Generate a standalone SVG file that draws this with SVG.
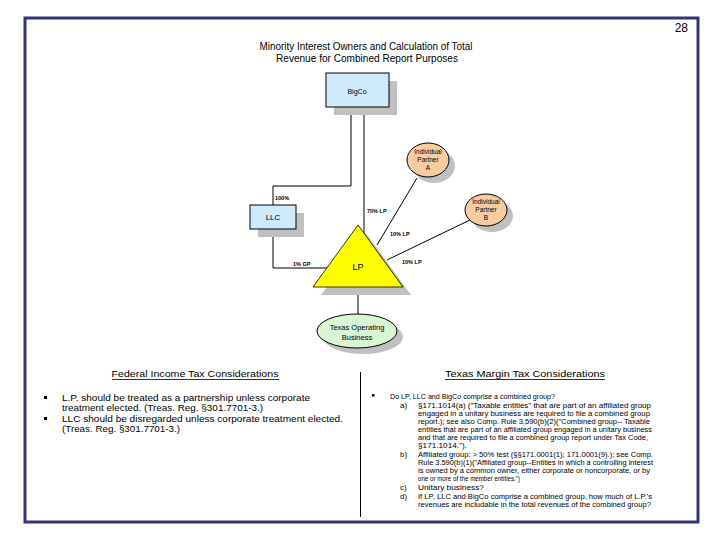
<svg xmlns="http://www.w3.org/2000/svg" width="720" height="540" viewBox="0 0 720 540">
<style>
text{font-family:"Liberation Sans",Arial,sans-serif;fill:#000}
.t{font-size:10px}
.n{font-size:7px}
.lb{font-size:5.5px;font-weight:bold}
.b{font-size:9px}
.s{font-size:8px}
.ln{stroke:#000;stroke-width:1;fill:none}
.sh{fill:#c0c0c0}
</style>
<rect x="0" y="0" width="720" height="540" fill="#fff"/>
<rect x="25" y="18" width="673" height="504" fill="none" stroke="#333377" stroke-width="3"/>
<text x="688" y="32" font-size="12" text-anchor="end" style="font-size:12px">28</text>
<text class="t" x="366" y="50" text-anchor="middle" textLength="213" lengthAdjust="spacingAndGlyphs">Minority Interest Owners and Calculation of Total</text>
<text class="t" x="367" y="62" text-anchor="middle" textLength="182" lengthAdjust="spacingAndGlyphs">Revenue for Combined Report Purposes</text>

<g id="connectors">
<polyline class="ln" points="351,107 351,186 273,186 273,205"/>
<line class="ln" x1="364" y1="107" x2="364" y2="234"/>
<polyline class="ln" points="273,229 273,268 328,268"/>
<line class="ln" x1="417" y1="178" x2="377" y2="245"/>
<line class="ln" x1="470" y1="220" x2="387" y2="260"/>
<line class="ln" x1="358" y1="287" x2="358" y2="315"/>
<text class="lb" x="275" y="200">100%</text>
<text class="lb" x="367" y="213">70% LP</text>
<text class="lb" x="390" y="236">10% LP</text>
<text class="lb" x="402" y="264">10% LP</text>
<text class="lb" x="293" y="266">1% GP</text>
</g>

<g id="bigco">
<rect class="sh" x="334" y="81" width="63" height="34"/>
<rect x="326" y="73" width="63" height="34" fill="#cfeafb" stroke="#000" stroke-width="1"/>
<text class="n" x="357" y="94" text-anchor="middle">BigCo</text>
</g>

<g id="llc">
<rect class="sh" x="258" y="213" width="46" height="24"/>
<rect x="250" y="205" width="46" height="24" fill="#cfeafb" stroke="#000" stroke-width="1"/>
<text x="273" y="220" text-anchor="middle" style="font-size:8px">LLC</text>
</g>

<g id="partner-a">
<ellipse class="sh" cx="434" cy="166" rx="21" ry="17"/>
<ellipse cx="428" cy="160" rx="21" ry="17" fill="#f9cba0" stroke="#000" stroke-width="1"/>
<text x="428" y="154" text-anchor="middle" style="font-size:6.5px">Individual</text>
<text x="428" y="162" text-anchor="middle" style="font-size:6.5px">Partner</text>
<text x="428" y="170" text-anchor="middle" style="font-size:6.5px">A</text>
</g>

<g id="partner-b">
<ellipse class="sh" cx="492" cy="216" rx="21" ry="16"/>
<ellipse cx="486" cy="210" rx="21" ry="16" fill="#f9cba0" stroke="#000" stroke-width="1"/>
<text x="486" y="204" text-anchor="middle" style="font-size:6.5px">Individual</text>
<text x="486" y="212" text-anchor="middle" style="font-size:6.5px">Partner</text>
<text x="486" y="220" text-anchor="middle" style="font-size:6.5px">B</text>
</g>

<g id="lp">
<polygon class="sh" points="366,233 411,295 321,295"/>
<polygon points="358,225 403,287 313,287" fill="#ffff00" stroke="#000" stroke-width="0.8"/>
<text x="358" y="270" text-anchor="middle" style="font-size:9px">LP</text>
</g>

<g id="texas-operating-business">
<ellipse class="sh" cx="363" cy="337" rx="40" ry="17"/>
<ellipse cx="357" cy="331" rx="40" ry="17" fill="#d9f5d4" stroke="#000" stroke-width="1"/>
<text x="357" y="330" text-anchor="middle" style="font-size:7.5px">Texas Operating</text>
<text x="357" y="340" text-anchor="middle" style="font-size:7.5px">Business</text>
</g>

<line class="ln" x1="360.5" y1="372" x2="360.5" y2="517"/>

<g id="federal">
<text class="b" x="195" y="377" text-anchor="middle" textLength="167" lengthAdjust="spacingAndGlyphs">Federal Income Tax Considerations</text>
<line x1="112" y1="379.5" x2="279" y2="379.5" stroke="#000" stroke-width="0.8"/>
<rect x="44" y="396" width="3" height="3" fill="#000"/>
<rect x="44" y="417" width="3" height="3" fill="#000"/>
<text class="b" x="62" y="401" textLength="248" lengthAdjust="spacingAndGlyphs">L.P. should be treated as a partnership unless corporate</text>
<text class="b" x="62" y="411" textLength="201" lengthAdjust="spacingAndGlyphs">treatment elected. (Treas. Reg. §301.7701-3.)</text>
<text class="b" x="62" y="422" textLength="281" lengthAdjust="spacingAndGlyphs">LLC should be disregarded unless corporate treatment elected.</text>
<text class="b" x="62" y="432" textLength="118" lengthAdjust="spacingAndGlyphs">(Treas. Reg. §301.7701-3.)</text>
</g>

<g id="texas">
<text class="b" x="525" y="377" text-anchor="middle" textLength="160" lengthAdjust="spacingAndGlyphs">Texas Margin Tax Considerations</text>
<line x1="445" y1="379.5" x2="605" y2="379.5" stroke="#000" stroke-width="0.8"/>
<rect x="372" y="394" width="2.5" height="2.5" fill="#000"/>
<text class="s" x="390" y="399" textLength="165" lengthAdjust="spacingAndGlyphs">Do LP, LLC and BigCo comprise a combined group?</text>
<text class="s" x="400" y="408">a)</text>
<text class="s" x="418" y="408" textLength="233" lengthAdjust="spacingAndGlyphs">§171.1014(a) ("Taxable entities" that are part of an affiliated group</text>
<text class="s" x="418" y="416" textLength="232" lengthAdjust="spacingAndGlyphs">engaged in a unitary business are required to file a combined group</text>
<text class="s" x="418" y="424" textLength="232" lengthAdjust="spacingAndGlyphs">report.); see also Comp. Rule 3.590(b)(2)("Combined group-- Taxable</text>
<text class="s" x="418" y="432" textLength="234" lengthAdjust="spacingAndGlyphs">entities that are part of an affiliated group engaged in a unitary business</text>
<text class="s" x="418" y="440" textLength="230" lengthAdjust="spacingAndGlyphs">and that are required to file a combined group report under Tax Code,</text>
<text class="s" x="418" y="448" textLength="49" lengthAdjust="spacingAndGlyphs">§171.1014.").</text>
<text class="s" x="400" y="457">b)</text>
<text class="s" x="418" y="457" textLength="235" lengthAdjust="spacingAndGlyphs">Affiliated group: &gt; 50% test (§§171.0001(1); 171.0001(9).);  see Comp.</text>
<text class="s" x="418" y="465" textLength="235" lengthAdjust="spacingAndGlyphs">Rule 3.590(b)(1)("Affiliated group--Entities in which a controlling interest</text>
<text class="s" x="418" y="473" textLength="232" lengthAdjust="spacingAndGlyphs">is owned by a common owner, either corporate or noncorporate, or by</text>
<text class="s" x="418" y="481" textLength="102" lengthAdjust="spacingAndGlyphs">one or more of the member entities.")</text>
<text class="s" x="400" y="490">c)</text>
<text class="s" x="418" y="490" textLength="66" lengthAdjust="spacingAndGlyphs">Unitary business?</text>
<text class="s" x="400" y="499">d)</text>
<text class="s" x="418" y="499" textLength="234" lengthAdjust="spacingAndGlyphs">If LP, LLC and BigCo comprise a combined group, how much of L.P.'s</text>
<text class="s" x="418" y="507" textLength="233" lengthAdjust="spacingAndGlyphs">revenues are includable in the total revenues of the combined group?</text>
</g>
</svg>
